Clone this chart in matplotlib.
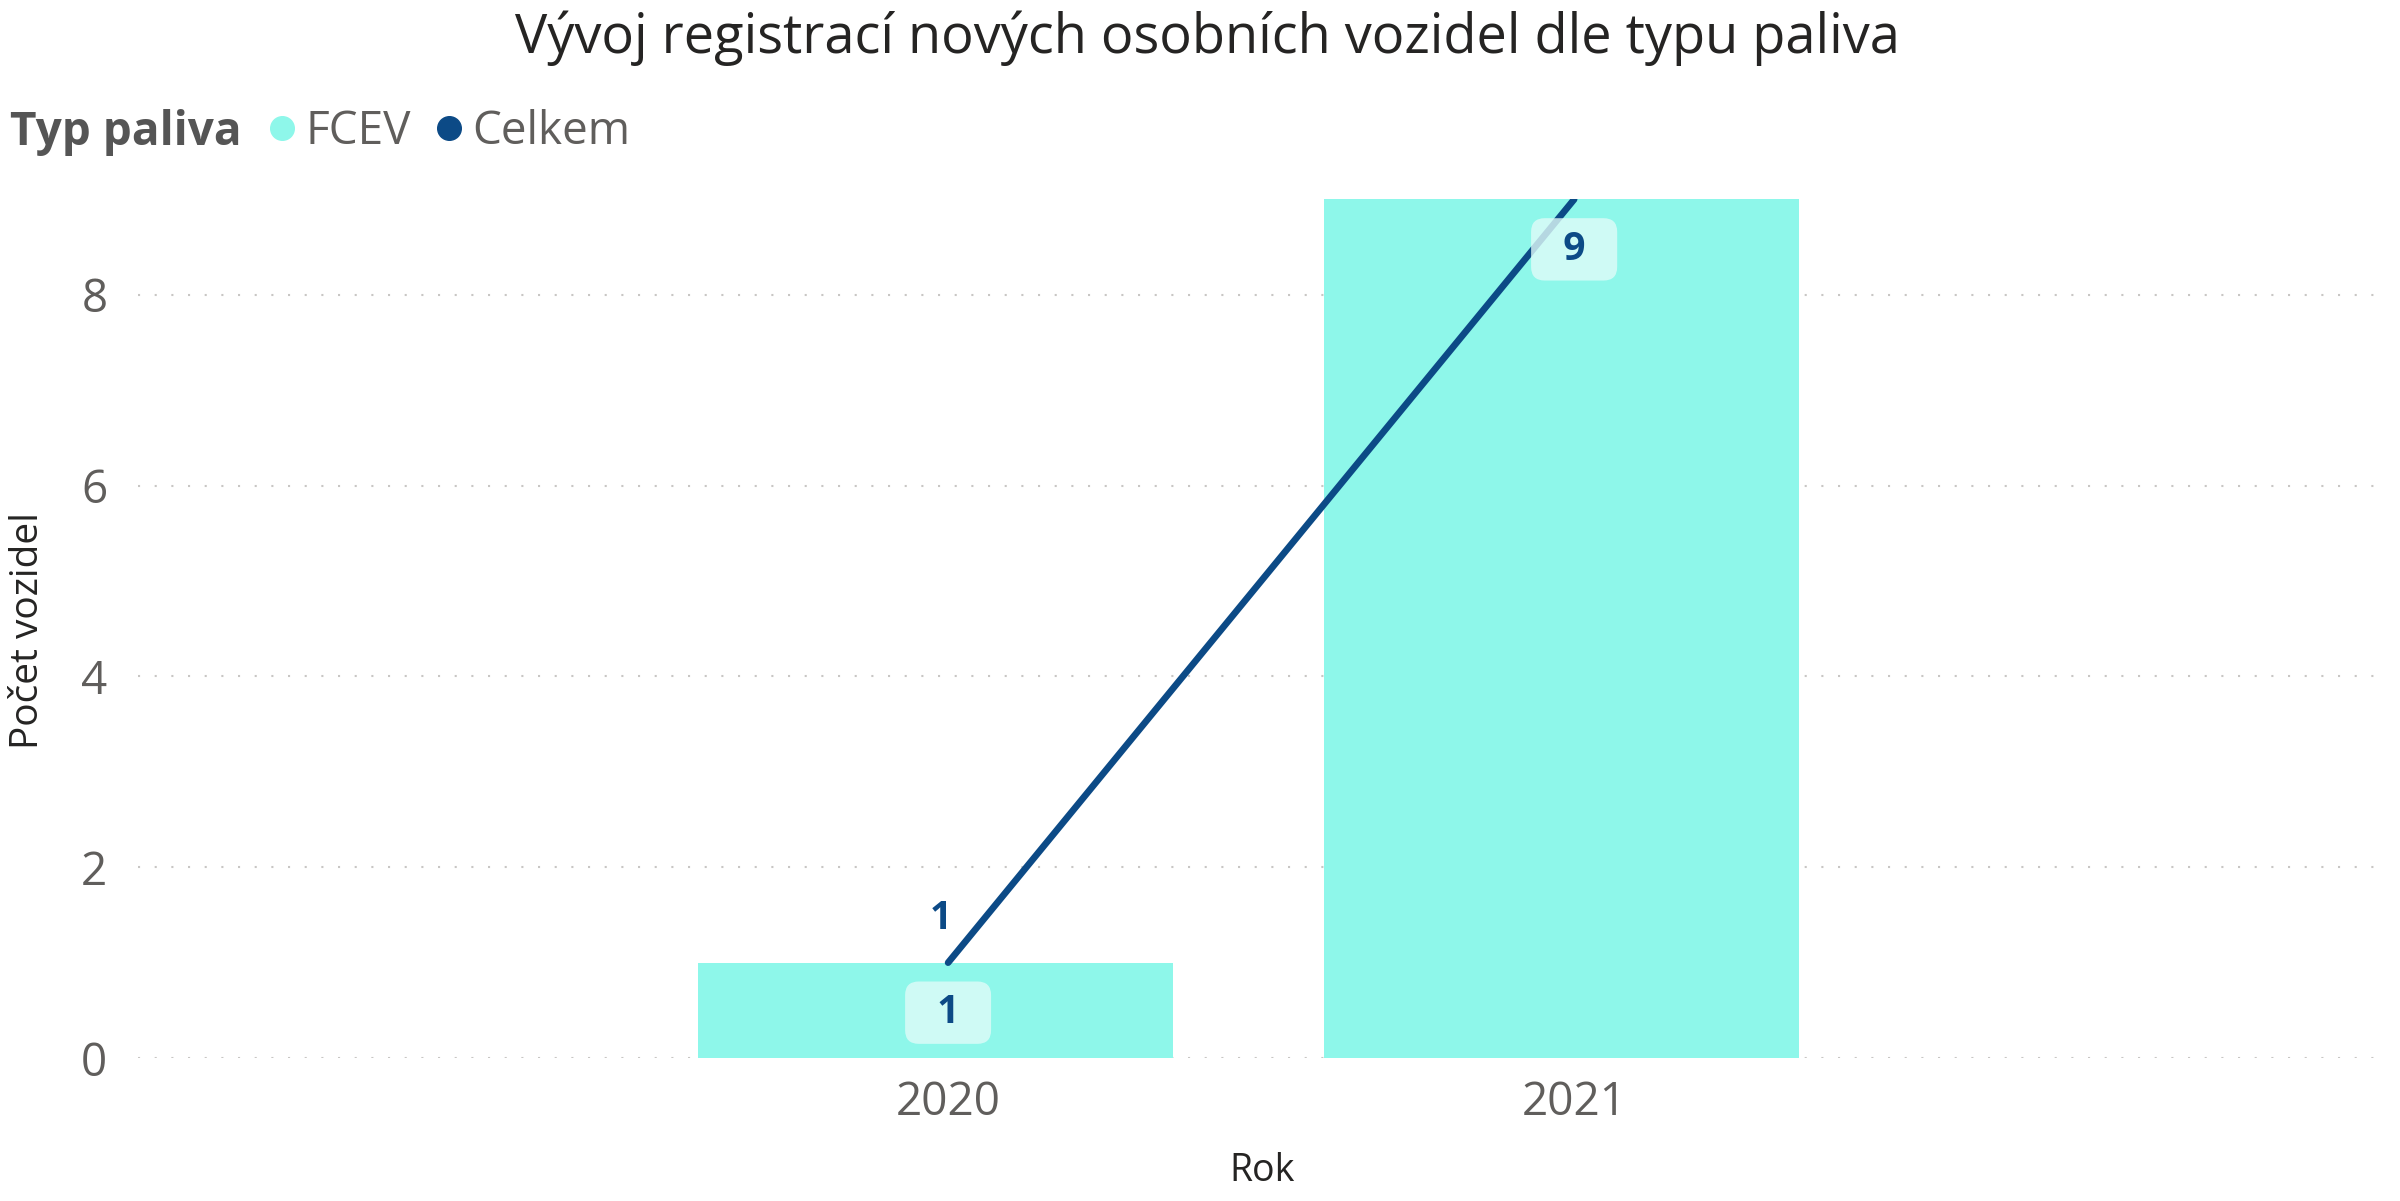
import matplotlib
matplotlib.use("Agg")
import matplotlib.pyplot as plt
from matplotlib.lines import Line2D
import numpy as np

# data
roky = ["2020", "2021"]
fcev = [1, 9]
celkem = [1, 9]

bar_color = "#8EF7EA"
line_color = "#0C4A86"
label_box = "#E0FCF9"

plt.rcParams["font.family"] = ["Open Sans", "DejaVu Sans"]

fig = plt.figure(figsize=(24, 12.01), dpi=100)
ax = fig.add_axes([0.0575, 0.119, 0.9375, 0.715])

x = np.arange(len(roky))
xl = x + 0.02  # cara a popisky os jsou v Power BI mirne posunute
bars = ax.bar(x, fcev, width=0.758, color=bar_color, zorder=2)
ax.plot(xl, celkem, color=line_color, linewidth=4.8, solid_capstyle="round", zorder=3)

ax.set_xlim(-1.274, 2.32)
ax.set_ylim(0, 9)
ax.set_yticks([0, 2, 4, 6, 8])
ax.set_xticks(xl)
ax.set_xticklabels(roky)

# mrizka
ax.grid(axis="y", color="#C8C6C4", linestyle=(0, (1, 7)), linewidth=1.5, zorder=0)
ax.grid(axis="x", visible=False)
ax.set_axisbelow(True)
for s in ax.spines.values():
    s.set_visible(False)
ax.tick_params(length=0, labelsize=33, labelcolor="#605E5C")
ax.tick_params(axis="y", pad=22)
ax.tick_params(axis="x", pad=16)

# popisky hodnot sloupcu
for xi, v in zip(xl, fcev):
    ax.annotate("  " + str(v) + "  ", (xi, v), xytext=(0, -36), textcoords="offset points",
                ha="center", va="center", fontsize=28, fontweight="bold",
                color=line_color, zorder=5,
                bbox=dict(boxstyle="round,pad=0.3,rounding_size=0.35",
                          fc=label_box, ec="none", alpha=0.8))

# popisek cary (jen prvni bod, druhy je mimo osu)
ax.annotate(str(celkem[0]), (xl[0], celkem[0]), xytext=(-5, 32), textcoords="offset points",
            ha="center", va="center", fontsize=28, fontweight="bold",
            color=line_color, zorder=5)

# titulek a popisky os
fig.text(0.503, 0.968, "Vývoj registrací nových osobních vozidel dle typu paliva",
         ha="center", va="center", fontsize=39, color="#252423")
fig.text(0.526, 0.025, "Rok", ha="center", va="center", fontsize=27, color="#252423")
fig.text(0.0117, 0.475, "Počet vozidel", ha="center", va="center", rotation=90,
         fontsize=28, color="#252423")

# legenda
fig.text(0.004, 0.890, "Typ paliva", ha="left", va="center", fontsize=33,
         fontweight="bold", color="#555555")
handles = [
    Line2D([], [], marker="o", linestyle="none", markersize=17, color=bar_color),
    Line2D([], [], marker="o", linestyle="none", markersize=17, color=line_color),
]
fig.legend(handles, ["FCEV", "Celkem"], loc="center left", bbox_to_anchor=(0.108, 0.890),
           ncol=2, frameon=False, fontsize=33, labelcolor="#605E5C",
           handletextpad=0.0, columnspacing=0.35, handlelength=1.0, borderpad=0,
           borderaxespad=0)

fig.savefig("out.png", dpi=100)
